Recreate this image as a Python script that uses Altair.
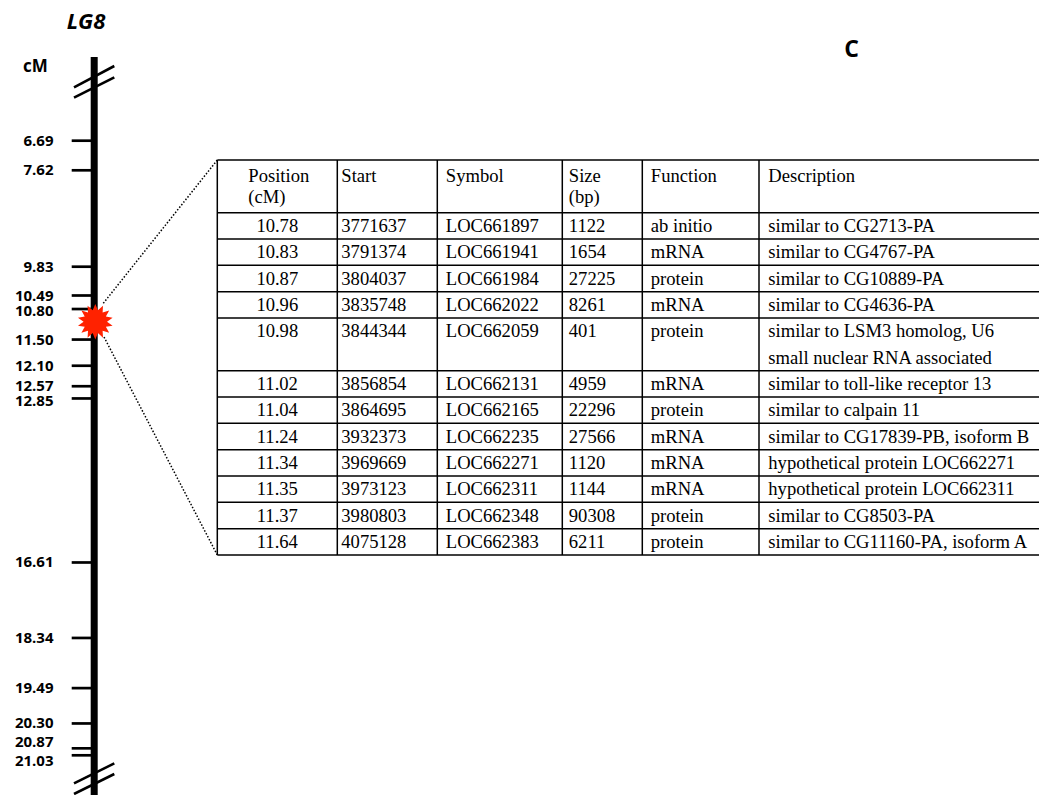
import math
import altair as alt
import pandas as pd

# ---------------- data ----------------
marker_cm = [6.69, 7.62, 9.83, 10.49, 10.80, 11.50, 12.10, 12.57, 12.85,
             16.61, 18.34, 19.49, 20.30, 20.87, 21.03]
marker_text = ["6.69", "7.62", "9.83", "10.49", "10.80", "11.50", "12.10", "12.57",
               "12.85", "16.61", "18.34", "19.49", "20.30", "20.87", "21.03"]
qtl_cm = [11.09]

headers = ["Position\n(cM)", "Start", "Symbol", "Size\n(bp)", "Function", "Description"]
positions = ["10.78", "10.83", "10.87", "10.96", "10.98", "11.02", "11.04", "11.24",
             "11.34", "11.35", "11.37", "11.64"]
starts = ["3771637", "3791374", "3804037", "3835748", "3844344", "3856854", "3864695",
          "3932373", "3969669", "3973123", "3980803", "4075128"]
symbols = ["LOC661897", "LOC661941", "LOC661984", "LOC662022", "LOC662059", "LOC662131",
           "LOC662165", "LOC662235", "LOC662271", "LOC662311", "LOC662348", "LOC662383"]
sizes = ["1122", "1654", "27225", "8261", "401", "4959", "22296", "27566", "1120",
         "1144", "90308", "6211"]
functions = ["ab initio", "mRNA", "protein", "mRNA", "protein", "mRNA", "protein",
             "mRNA", "mRNA", "mRNA", "protein", "protein"]
descriptions = ["similar to CG2713-PA", "similar to CG4767-PA", "similar to CG10889-PA",
                "similar to CG4636-PA",
                "similar to LSM3 homolog, U6\nsmall nuclear RNA associated",
                "similar to toll-like receptor 13", "similar to calpain 11",
                "similar to CG17839-PB, isoform B", "hypothetical protein LOC662271",
                "hypothetical protein LOC662311", "similar to CG8503-PA",
                "similar to CG11160-PA, isoform A"]

# ---------------- layout / style ----------------
OFF = 8
W, H = 1031, 787


def px(v):
    return v - OFF


LABEL_FONT = "Open Sans"
TABLE_FONT = "Liberation Serif"
TFS = 18.6

cm_scale = alt.Scale(domain=[6.69, 7.62, 21.03],
                     range=[px(140.7), px(170.3), px(755.3)], zero=False, nice=False)

col_edges = [217.3, 337.3, 437.3, 562.3, 642.3, 759.0, 1047.0]
tab_x = alt.Scale(domain=list(range(len(col_edges))), range=[px(v) for v in col_edges],
                  zero=False, nice=False)

cols = [positions, starts, symbols, sizes, functions, descriptions]
row_lines = [max(len(str(c[i]).split("\n")) for c in cols) for i in range(len(positions))]
header_lines = max(len(h.split("\n")) for h in headers)
n_units = header_lines + sum(row_lines)
tab_y = alt.Scale(domain=[0, n_units], range=[px(160), px(555)], zero=False, nice=False)

# grid lines
bounds = [0, header_lines]
acc = header_lines
for n in row_lines:
    acc += n
    bounds.append(acc)
hlines = pd.DataFrame({"y": bounds, "x0": 0, "x1": len(col_edges) - 1})
vlines = pd.DataFrame({"x": list(range(len(col_edges) - 1)), "y0": 0, "y1": n_units})

# text cells
recs = []
for c, h in enumerate(headers):
    for k, line in enumerate(h.split("\n")):
        recs.append({"col": c, "cx": c + (0.5 if c == 0 else 0.0),
                     "cy": 0.62 + 0.8 * k, "t": line, "kind": "hdr0" if c == 0 else "left"})
s = header_lines
for i in range(len(positions)):
    for c, arr in enumerate(cols):
        for k, line in enumerate(str(arr[i]).split("\n")):
            recs.append({"col": c, "cx": c + (0.5 if c == 0 else 0.0),
                         "cy": s + k + 0.5, "t": line,
                         "kind": "center" if c == 0 else "left"})
    s += row_lines[i]
cells = pd.DataFrame(recs)

markers = pd.DataFrame({"cm": marker_cm, "label": marker_text})
nudge = {"10.80": 2, "12.85": 3, "20.87": -6, "21.03": 6}
markers["dy"] = [nudge.get(t, 0) for t in marker_text]

one = alt.Data(values=[{}])

# ---------------- chromosome ----------------
bar = alt.Chart(one).mark_rule(color="black", strokeWidth=7, strokeCap="butt").encode(
    x=alt.value(px(94.2)), y=alt.value(px(57)), y2=alt.value(px(806)))

breaks = []
for (x1, y1, x2, y2) in [(74, 87.3, 114.3, 66.0), (74, 97.7, 114.3, 77.3),
                         (74, 783.3, 114.3, 763.3), (74, 794.0, 114.3, 774.0)]:
    breaks.append(alt.Chart(one).mark_rule(color="black", strokeWidth=2.6).encode(
        x=alt.value(px(x1)), y=alt.value(px(y1)), x2=alt.value(px(x2)), y2=alt.value(px(y2))))

ticks = alt.Chart(markers).mark_rule(color="black", strokeWidth=2.7).encode(
    y=alt.Y("cm:Q", scale=cm_scale, axis=None),
    x=alt.value(px(71.7)), x2=alt.value(px(91)))

label_layers = []
for d in sorted(set(markers["dy"])):
    label_layers.append(
        alt.Chart(markers[markers["dy"] == d]).mark_text(
            font=LABEL_FONT, fontWeight="bold", fontSize=15, align="right",
            baseline="middle", dy=d, color="black").encode(
            y=alt.Y("cm:Q", scale=cm_scale, axis=None),
            x=alt.value(px(53.5)), text="label:N"))

# star
pts = []
n = 14
for i in range(2 * n):
    r = 1.0 if i % 2 == 0 else 0.66
    a = math.pi * i / n - math.pi / 2
    pts.append(f"{r * math.cos(a):.3f},{r * math.sin(a):.3f}")
star_path = "M" + "L".join(pts) + "Z"
star = alt.Chart(pd.DataFrame({"cm": qtl_cm})).mark_point(
    shape=star_path, filled=True, color="#ff2200", size=1260, opacity=1,
    strokeWidth=0).encode(
    y=alt.Y("cm:Q", scale=cm_scale, axis=None), x=alt.value(px(95.3)))

dots = []
for (x1, y1, x2, y2) in [(103.3, 303.3, 217.3, 160.0), (104.0, 337.0, 217.3, 555.0)]:
    dots.append(alt.Chart(one).mark_rule(color="black", strokeWidth=1.5,
                                         strokeDash=[1.5, 1.8]).encode(
        x=alt.value(px(x1)), y=alt.value(px(y1)), x2=alt.value(px(x2)), y2=alt.value(px(y2))))

# titles
lg8 = alt.Chart(one).mark_text(text="LG8", font=LABEL_FONT, fontWeight="bold",
                               fontStyle="italic", fontSize=22, align="center",
                               baseline="alphabetic").encode(
    x=alt.value(px(86)), y=alt.value(px(28.5)))
cm_lab = alt.Chart(one).mark_text(text="cM", font=LABEL_FONT, fontWeight="bold",
                                  fontSize=17, align="left", baseline="middle").encode(
    x=alt.value(px(23)), y=alt.value(px(67)))
c_lab = alt.Chart(one).mark_text(text="C", font=LABEL_FONT, fontWeight="bold",
                                 fontSize=23, align="center", baseline="middle").encode(
    x=alt.value(px(851.5)), y=alt.value(px(50)))

# ---------------- table ----------------
hgrid = alt.Chart(hlines).mark_rule(color="black", strokeWidth=1.5).encode(
    x=alt.X("x0:Q", scale=tab_x, axis=None), x2="x1:Q",
    y=alt.Y("y:Q", scale=tab_y, axis=None))
vgrid = alt.Chart(vlines).mark_rule(color="black", strokeWidth=1.5).encode(
    x=alt.X("x:Q", scale=tab_x, axis=None),
    y=alt.Y("y0:Q", scale=tab_y, axis=None), y2="y1:Q")

text_layers = []
text_layers.append(alt.Chart(cells[cells["kind"] == "center"]).mark_text(
    font=TABLE_FONT, fontSize=TFS, align="center", baseline="middle", color="black").encode(
    x=alt.X("cx:Q", scale=tab_x, axis=None), y=alt.Y("cy:Q", scale=tab_y, axis=None),
    text="t:N"))
text_layers.append(alt.Chart(cells[cells["kind"] == "hdr0"]).mark_text(
    font=TABLE_FONT, fontSize=TFS, align="left", baseline="middle", dx=-29,
    color="black").encode(
    x=alt.X("cx:Q", scale=tab_x, axis=None), y=alt.Y("cy:Q", scale=tab_y, axis=None),
    text="t:N"))
pads = {1: 4, 2: 8.5, 3: 6.5, 4: 8.5, 5: 9.3}
for c, p in pads.items():
    sub = cells[(cells["kind"] == "left") & (cells["col"] == c)]
    text_layers.append(alt.Chart(sub).mark_text(
        font=TABLE_FONT, fontSize=TFS, align="left", baseline="middle", dx=p,
        color="black").encode(
        x=alt.X("cx:Q", scale=tab_x, axis=None), y=alt.Y("cy:Q", scale=tab_y, axis=None),
        text="t:N"))

chart = alt.layer(
    bar, *breaks, ticks, *label_layers, *dots, star, lg8, cm_lab, c_lab,
    hgrid, vgrid, *text_layers
).resolve_scale(x="independent", y="independent").properties(
    width=W, height=H, padding=0, autosize=alt.AutoSizeParams(type="none")
).configure_view(strokeWidth=0)

chart.save("out.html", embed_options={"renderer": "svg", "actions": False})
